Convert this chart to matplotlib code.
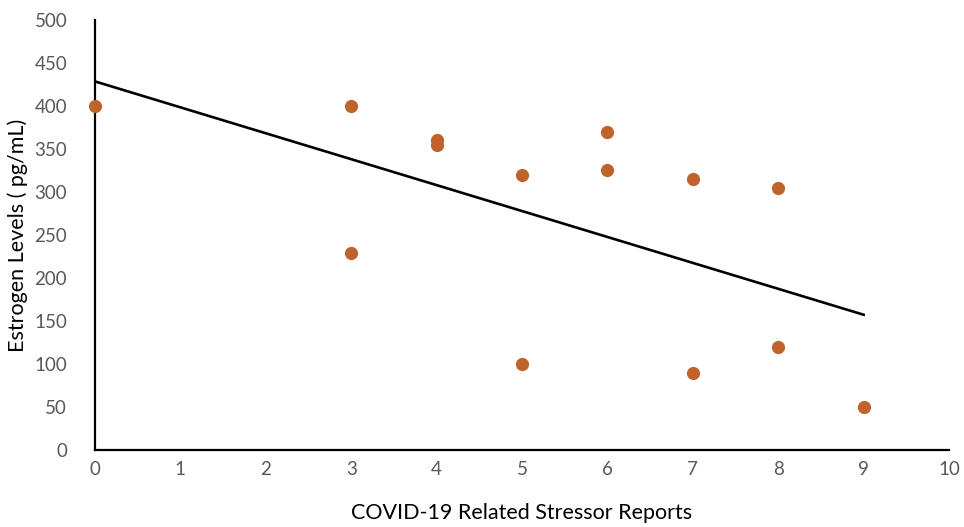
import matplotlib.pyplot as plt
import numpy as np

stressor_reports = [0, 3, 3, 4, 4, 5, 5, 6, 6, 7, 7, 8, 8, 9]
estrogen_levels = [400, 400, 229, 360, 355, 320, 100, 370, 326, 315, 90, 305, 120, 50]

plt.rcParams['font.family'] = ['Lato', 'DejaVu Sans']

fig = plt.figure(figsize=(9.64, 5.27), dpi=100)
ax = fig.add_axes([0.0985, 0.146, 0.886, 0.816])

# linear trend line over the data range
slope, intercept = np.polyfit(stressor_reports, estrogen_levels, 1)
xs = np.array([min(stressor_reports), max(stressor_reports)])
ax.plot(xs, slope * xs + intercept, color='black', lw=1.9, zorder=2)

ax.scatter(stressor_reports, estrogen_levels, s=72, color='#C0622B', zorder=3, clip_on=False)

ax.set_xlim(0, 10)
ax.set_ylim(0, 500)
ax.set_xticks(range(0, 11))
ax.set_yticks(range(0, 501, 50))
ax.tick_params(length=0, labelsize=13.5, colors='#595959', pad=8)
ax.tick_params(axis='y', pad=20)
for s in ['top', 'right']:
    ax.spines[s].set_visible(False)
for s in ['left', 'bottom']:
    ax.spines[s].set_linewidth(1.6)
    ax.spines[s].set_color('black')

ax.set_xlabel('COVID-19 Related Stressor Reports', fontsize=15.5, labelpad=18)
ax.set_ylabel('Estrogen Levels ( pg/mL)', fontsize=15.5)
ax.yaxis.set_label_coords(-0.078, 0.5)

fig.savefig('out.png', dpi=100)
